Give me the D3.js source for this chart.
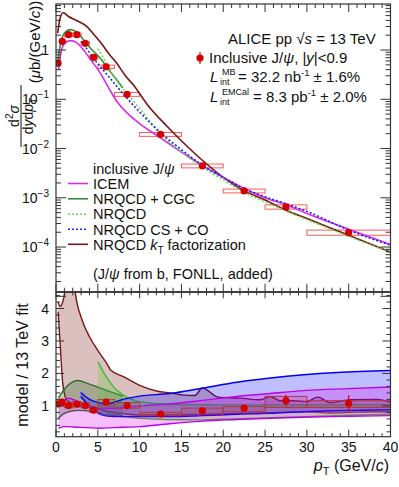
<!DOCTYPE html>
<html>
<head>
<meta charset="utf-8">
<script src="https://cdn.jsdelivr.net/npm/d3@7"></script>
<style>
  body { margin: 0; background: #fff; }
  svg { display: block; font-family: "Liberation Sans", Arial, sans-serif; }
</style>
</head>
<body>
<svg id="chart"></svg>
<script>
// ---- data: J/psi cross section (top) ----
const ptData = [0.25, 0.75, 1.5, 2.5, 3.5, 4.5, 6, 8.5, 12.5, 17.5, 22.5, 27.5, 35];
const ptLow  = [0, 0.5, 1, 2, 3, 4, 5, 7, 10, 15, 20, 25, 30];
const ptHigh = [0.5, 1, 2, 3, 4, 5, 7, 10, 15, 20, 25, 30, 40];
const xsec   = [0.54, 1.50, 2.05, 2.05, 1.37, 0.71, 0.458, 0.126, 0.0194, 4.45e-3, 1.38e-3, 6.53e-4, 1.97e-4];
const xsecStat = [0.06, 0.04, 0.03, 0.03, 0.03, 0.04, 0.04, 0.05, 0.06, 0.07, 0.09, 0.12, 0.15];
const xsecSyst = [0.09, 0.08, 0.08, 0.08, 0.08, 0.08, 0.08, 0.09, 0.09, 0.09, 0.09, 0.10, 0.12];

// ---- model curves (top) ----
const icemPt  = [0.3, 0.6, 1.0, 1.7, 2.5, 3.3, 4.2, 5.3, 6.3, 7.3, 8.5, 10, 12.5, 15, 17.5, 20, 22.5, 25, 27.5, 30, 35, 40];
const icemVal = [0.39, 0.9, 1.35, 1.55, 1.4, 1.0, 0.62, 0.34, 0.17, 0.089, 0.053, 0.032, 0.0165, 8.5e-3, 4.5e-3, 2.6e-3, 1.55e-3, 1.0e-3, 7.2e-4, 4.8e-4, 2.3e-4, 1.12e-4];
const cgcPt   = [0.15, 0.4, 0.8, 1.2, 1.7, 2.5, 3.3, 4.2, 5.3, 6.3, 7.3, 8.0];
const cgcVal  = [0.46, 1.0, 1.9, 2.4, 2.6, 2.3, 1.6, 1.05, 0.68, 0.4, 0.245, 0.17];
const nrqcdPt  = [5, 6, 7.3, 8.5, 10, 12.5, 15, 17.5, 20, 22.5, 25, 27.5, 30, 35, 40];
const nrqcdVal = [1.07, 0.55, 0.23, 0.13, 0.065, 0.02, 8.5e-3, 4.2e-3, 2.3e-3, 1.3e-3, 8.2e-4, 5.4e-4, 3.6e-4, 1.65e-4, 7.8e-5];
const csPt  = [3.0, 3.5, 4.2, 5.3, 6.3, 7.3, 8.5, 10, 12.5, 15, 17.5, 20, 22.5, 25, 27.5, 30, 35, 40];
const csVal = [1.5, 1.17, 0.8, 0.46, 0.29, 0.18, 0.105, 0.055, 0.021, 9.5e-3, 4.6e-3, 2.6e-3, 1.54e-3, 1.05e-3, 7.6e-4, 5.3e-4, 2.2e-4, 1.09e-4];
const ktPt  = [0.2, 0.5, 0.87, 1.5, 2.5, 3.7, 4.5, 5.27, 6.3, 7.27, 8.3, 9.26, 11, 13.3, 16.4, 20, 22.5, 25, 27.5, 30, 35, 40];
const ktVal = [2.2, 4.5, 5.7, 4.8, 3.94, 2.98, 2.1, 1.47, 0.85, 0.54, 0.3, 0.194, 0.075, 0.028, 8.5e-3, 2.6e-3, 1.38e-3, 9e-4, 5.6e-4, 3.8e-4, 1.74e-4, 7.9e-5];

// ---- ratio panel ----
const ratio     = [1.06, 1.12, 1.01, 1.05, 1.01, 0.87, 1.12, 1.01, 0.75, 0.85, 0.93, 1.16, 1.08];
const ratioStat = [0.10, 0.08, 0.05, 0.05, 0.05, 0.05, 0.06, 0.07, 0.10, 0.10, 0.10, 0.18, 0.25];
const ratioBoxLo = [0.98, 1.03, 0.94, 0.97, 0.94, 0.80, 1.00, 0.93, 0.70, 0.75, 0.82, 0.95, 0.95];
const ratioBoxHi = [1.14, 1.20, 1.08, 1.13, 1.08, 0.94, 1.20, 1.10, 0.80, 0.93, 0.98, 1.29, 1.16];

const ktBandPt = [0.25, 0.5, 0.8, 1.1, 1.3, 1.6, 2.0, 2.3, 3.1, 4.07, 5.07, 6.27, 6.5, 8.06, 10, 12, 14, 15, 16.6, 17.5, 19.4, 22, 24.4, 25.6, 26.8, 28.4, 30, 31.3, 32.8, 35.2, 38.4, 40];
const ktBandHi = [4.2, 4.07, 4.2, 4.6, 5.2, 5.5, 5.2, 4.5, 3.66, 3.1, 2.68, 2.22, 2.11, 1.9, 1.63, 1.46, 1.39, 1.34, 1.32, 1.55, 1.27, 1.24, 1.19, 1.29, 1.16, 1.16, 1.13, 1.27, 1.1, 1.19, 1.2, 1.11];
const ktBandLo = [3.9, 2.9, 1.7, 1.28, 1.18, 1.12, 1.06, 1.04, 1.0, 0.95, 0.9, 0.82, 0.81, 0.76, 0.72, 0.72, 0.72, 0.72, 0.73, 0.73, 0.75, 0.77, 0.78, 0.79, 0.8, 0.81, 0.82, 0.8, 0.78, 0.8, 0.82, 0.82];
const cgcBandPt = [0.3, 0.8, 1.28, 2.07, 2.67, 3.67, 5.07, 6.47, 8.0];
const cgcBandHi = [1.24, 1.45, 1.6, 1.75, 1.78, 1.7, 1.57, 1.44, 1.3];
const cgcBandLo = [0.62, 0.74, 0.8, 0.85, 0.86, 0.85, 0.79, 0.74, 0.7];
const nrqcdBandPt = [5, 6, 7, 8, 10, 13, 17, 20, 25, 30, 35, 40];
const nrqcdBandHi = [2.37, 1.9, 1.55, 1.34, 1.13, 1.06, 1.04, 1.03, 1.03, 1.03, 1.03, 1.03];
const nrqcdBandLo = [0.82, 0.75, 0.7, 0.67, 0.62, 0.58, 0.57, 0.59, 0.63, 0.67, 0.71, 0.75];
const csBandPt = [2.95, 4.07, 5.07, 6.07, 8, 10, 13.6, 17.6, 21.6, 25.6, 29.6, 33.6, 40];
const csBandHi = [1.41, 1.19, 1.1, 1.06, 1.2, 1.3, 1.38, 1.55, 1.73, 1.86, 1.96, 2.03, 2.09];
const csBandLo = [1.29, 0.98, 0.77, 0.69, 0.67, 0.67, 0.67, 0.7, 0.74, 0.77, 0.82, 0.85, 0.88];
const icemBandPt = [0.3, 0.9, 1.5, 2.1, 3.7, 5.1, 7, 10, 13.6, 17.5, 21.6, 25.6, 29.6, 35, 40];
const icemBandHi = [1.03, 1.15, 1.24, 1.19, 1.03, 0.93, 0.93, 1.0, 1.06, 1.17, 1.29, 1.38, 1.47, 1.53, 1.58];
const icemBandLo = [0.31, 0.36, 0.36, 0.35, 0.33, 0.31, 0.33, 0.36, 0.45, 0.53, 0.58, 0.62, 0.65, 0.68, 0.7];

const xTicks = [0, 5, 10, 15, 20, 25, 30, 35, 40];
const ratioTicks = [1, 2, 3, 4];
const logTicks = [1e-4, 1e-3, 1e-2, 1e-1, 1];
const logLabels = [["10", "\u22124"], ["10", "\u22123"], ["10", "\u22122"], ["10", "\u22121"], ["1", ""]];

const colIcem = "#d62ee6", colCgc = "#3a8a3a", colNrqcd = "#66dd55", colCs = "#2222ee", colKt = "#7b1515";
const colData = "#d40000";

const W = 399, H = 487;
const svg = d3.select("#chart").attr("width", W).attr("height", H);

const left = 56, right = 390.5;
const topY0 = 4, topY1 = 291.7, botY0 = 292.3, botY1 = 436.7;

const x = d3.scaleLinear().domain([0, 40]).range([left, right]);
const yTop = d3.scaleLog().domain([1.24e-5, 8.6]).range([topY1, topY0]);
const yBot = d3.scaleLinear().domain([0.05, 4.5]).range([botY1, botY0]);

const defs = svg.append("defs");
defs.append("clipPath").attr("id", "clipTop").append("rect")
  .attr("x", left).attr("y", topY0).attr("width", right - left).attr("height", topY1 - topY0);
defs.append("clipPath").attr("id", "clipBot").append("rect")
  .attr("x", left).attr("y", botY0).attr("width", right - left).attr("height", botY1 - botY0);

// ===== top panel =====
const gTop = svg.append("g").attr("clip-path", "url(#clipTop)");

function curve(g, pts, vals, color, dash, width) {
  const line = d3.line().x(d => x(d[0])).y(d => yTop(d[1])).curve(d3.curveMonotoneX);
  g.append("path").datum(d3.zip(pts, vals)).attr("d", line)
    .attr("fill", "none").attr("stroke", color).attr("stroke-width", width || 1.6)
    .attr("stroke-dasharray", dash || null);
}

// systematic boxes
gTop.selectAll(".sys").data(d3.range(ptData.length)).enter().append("rect")
  .attr("x", i => x(ptLow[i])).attr("width", i => x(ptHigh[i]) - x(ptLow[i]))
  .attr("y", i => yTop(xsec[i] * (1 + xsecSyst[i])))
  .attr("height", i => yTop(xsec[i] * (1 - xsecSyst[i])) - yTop(xsec[i] * (1 + xsecSyst[i])))
  .attr("fill", "none").attr("stroke", "#ff5a5a").attr("stroke-width", 1);

curve(gTop, ktPt, ktVal, colKt);
curve(gTop, icemPt, icemVal, colIcem);
curve(gTop, cgcPt, cgcVal, colCgc);
curve(gTop, nrqcdPt, nrqcdVal, colNrqcd, "2,2");
curve(gTop, csPt, csVal, colCs, "2,2");

gTop.selectAll(".err").data(d3.range(ptData.length)).enter().append("line")
  .attr("x1", i => x(ptData[i])).attr("x2", i => x(ptData[i]))
  .attr("y1", i => yTop(xsec[i] * (1 + xsecStat[i]))).attr("y2", i => yTop(xsec[i] * (1 - xsecStat[i])))
  .attr("stroke", colData).attr("stroke-width", 1.2);
gTop.selectAll(".pt").data(d3.range(ptData.length)).enter().append("circle")
  .attr("cx", i => x(ptData[i])).attr("cy", i => yTop(xsec[i])).attr("r", 3.6).attr("fill", colData);

// ===== bottom panel =====
const gBot = svg.append("g").attr("clip-path", "url(#clipBot)");

function band(pts, lo, hi, color, fill) {
  const area = d3.area().x(d => x(d[0])).y0(d => yBot(d[1])).y1(d => yBot(d[2])).curve(d3.curveMonotoneX);
  const data = d3.zip(pts, lo, hi);
  gBot.append("path").datum(data).attr("d", area).attr("fill", fill).attr("stroke", "none");
  const lineHi = d3.line().x(d => x(d[0])).y(d => yBot(d[2])).curve(d3.curveMonotoneX);
  const lineLo = d3.line().x(d => x(d[0])).y(d => yBot(d[1])).curve(d3.curveMonotoneX);
  gBot.append("path").datum(data).attr("d", lineHi).attr("fill", "none").attr("stroke", color).attr("stroke-width", 1.4);
  gBot.append("path").datum(data).attr("d", lineLo).attr("fill", "none").attr("stroke", color).attr("stroke-width", 1.4);
}

band(ktBandPt, ktBandLo, ktBandHi, colKt, "rgba(123,21,21,0.27)");
band(cgcBandPt, cgcBandLo, cgcBandHi, "#2a6e2a", "rgba(40,110,40,0.3)");
band(nrqcdBandPt, nrqcdBandLo, nrqcdBandHi, "#44bb33", "rgba(100,200,60,0.3)");
band(csBandPt, csBandLo, csBandHi, "#0000ee", "rgba(0,0,255,0.25)");
band(icemBandPt, icemBandLo, icemBandHi, "#bb00ee", "rgba(220,0,230,0.25)");

gBot.append("line").attr("x1", x(0)).attr("x2", x(40)).attr("y1", yBot(1)).attr("y2", yBot(1))
  .attr("stroke", "#777").attr("stroke-width", 1).attr("stroke-dasharray", "3,2");

gBot.selectAll(".rbox").data(d3.range(ptData.length)).enter().append("rect")
  .attr("x", i => x(ptLow[i])).attr("width", i => x(ptHigh[i]) - x(ptLow[i]))
  .attr("y", i => yBot(ratioBoxHi[i])).attr("height", i => yBot(ratioBoxLo[i]) - yBot(ratioBoxHi[i]))
  .attr("fill", "rgba(160,60,60,0.15)").attr("stroke", "#b03a3a").attr("stroke-width", 1);
gBot.selectAll(".rerr").data(d3.range(ptData.length)).enter().append("line")
  .attr("x1", i => x(ptData[i])).attr("x2", i => x(ptData[i]))
  .attr("y1", i => yBot(ratio[i] + ratioStat[i])).attr("y2", i => yBot(ratio[i] - ratioStat[i]))
  .attr("stroke", colData).attr("stroke-width", 1.2);
gBot.selectAll(".rpt").data(d3.range(ptData.length)).enter().append("circle")
  .attr("cx", i => x(ptData[i])).attr("cy", i => yBot(ratio[i])).attr("r", 3.6).attr("fill", colData);

// ===== axes / frames =====
const axCol = "#333";
[[topY0, topY1], [botY0, botY1]].forEach(([a, b]) => {
  svg.append("rect").attr("x", left).attr("y", a).attr("width", right - left).attr("height", b - a)
    .attr("fill", "none").attr("stroke", axCol).attr("stroke-width", 1.2);
});

const xMinor = d3.range(0, 41, 1).filter(v => v % 5 !== 0);
function xTickRow(y0, dir, len, vals) {
  svg.append("g").selectAll("line").data(vals).enter().append("line")
    .attr("x1", d => x(d)).attr("x2", d => x(d)).attr("y1", y0).attr("y2", y0 + dir * len)
    .attr("stroke", axCol).attr("stroke-width", 1);
}
xTickRow(topY0, 1, 8, xTicks); xTickRow(topY0, 1, 4, xMinor);
xTickRow(topY1, -1, 8, xTicks); xTickRow(topY1, -1, 4, xMinor);
xTickRow(botY0, 1, 6, xTicks); xTickRow(botY0, 1, 3, xMinor);
xTickRow(botY1, -1, 7, xTicks); xTickRow(botY1, -1, 3.5, xMinor);

function yTickRow(scale, vals, len) {
  const g = svg.append("g");
  g.selectAll(".l").data(vals).enter().append("line")
    .attr("x1", left).attr("x2", left + len).attr("y1", d => scale(d)).attr("y2", d => scale(d))
    .attr("stroke", axCol).attr("stroke-width", 1);
  g.selectAll(".r").data(vals).enter().append("line")
    .attr("x1", right).attr("x2", right - len).attr("y1", d => scale(d)).attr("y2", d => scale(d))
    .attr("stroke", axCol).attr("stroke-width", 1);
}
const logMajor = [1e-5, 1e-4, 1e-3, 1e-2, 1e-1, 1];
const logMinor = [];
logMajor.forEach(d => { for (let k = 2; k <= 9; k++) if (d * k < 8.6 && d * k > 1.24e-5) logMinor.push(d * k); });
yTickRow(yTop, logMajor, 10);
yTickRow(yTop, logMinor, 5);
yTickRow(yBot, ratioTicks, 8);
yTickRow(yBot, d3.range(0.2, 4.5, 0.2).filter(v => Math.abs(v - Math.round(v)) > 0.01), 4);

// x labels
svg.append("g").selectAll("text").data(xTicks).enter().append("text")
  .attr("x", d => x(d)).attr("y", 452).attr("text-anchor", "middle")
  .attr("font-size", 14).attr("fill", "#111").text(d => d);
// ratio y labels
svg.append("g").selectAll("text").data(ratioTicks).enter().append("text")
  .attr("x", 49).attr("y", d => yBot(d) + 5).attr("text-anchor", "end")
  .attr("font-size", 14).attr("fill", "#111").text(d => d);
// log labels
logTicks.forEach((v, i) => {
  const t = svg.append("text").attr("x", 49).attr("y", yTop(v) + 5).attr("text-anchor", "end")
    .attr("font-size", 14).attr("fill", "#111");
  t.append("tspan").text(logLabels[i][0]);
  if (logLabels[i][1]) t.append("tspan").attr("font-size", 10).attr("dy", -6).text(logLabels[i][1]);
});

// axis titles
const xt = svg.append("text").attr("x", 389).attr("y", 471).attr("text-anchor", "end")
  .attr("font-size", 16).attr("fill", "#111");
xt.append("tspan").attr("font-style", "italic").text("p");
xt.append("tspan").attr("font-size", 11).attr("dy", 4).text("T");
xt.append("tspan").attr("dy", -4).text(" (GeV/");
xt.append("tspan").attr("font-style", "italic").text("c");
xt.append("tspan").text(")");

svg.append("text").attr("transform", "rotate(-90)").attr("x", -365).attr("y", 28)
  .attr("text-anchor", "middle").attr("font-size", 16).attr("fill", "#111").text("model / 13 TeV fit");

const yt = svg.append("g").attr("transform", "rotate(-90)").attr("fill", "#111");
const num = yt.append("text").attr("x", -116).attr("y", 18.5).attr("text-anchor", "middle").attr("font-size", 14);
num.append("tspan").text("d");
num.append("tspan").attr("font-size", 10).attr("dy", -6).text("2");
num.append("tspan").attr("dy", 6).attr("font-style", "italic").text("\u03c3");
yt.append("line").attr("x1", -147).attr("x2", -85).attr("y1", 21).attr("y2", 21).attr("stroke", "#111").attr("stroke-width", 1);
const den = yt.append("text").attr("x", -116).attr("y", 32.5).attr("text-anchor", "middle").attr("font-size", 14);
den.append("tspan").text("d");
den.append("tspan").attr("font-style", "italic").text("y");
den.append("tspan").text("d");
den.append("tspan").attr("font-style", "italic").text("p");
den.append("tspan").attr("font-size", 10).attr("dy", 4).text("T");
const un = yt.append("text").attr("x", -42).attr("y", 40).attr("text-anchor", "middle").attr("font-size", 15);
un.append("tspan").text("(");
un.append("tspan").attr("font-style", "italic").text("\u03bc");
un.append("tspan").text("b/(GeV/");
un.append("tspan").attr("font-style", "italic").text("c");
un.append("tspan").text("))");

// ===== legends =====
const fs = 14.5;
svg.append("text").attr("x", 228).attr("y", 44).attr("font-size", 15).attr("fill", "#111")
  .html('ALICE pp \u221a<tspan font-style="italic">s</tspan> = 13 TeV');
svg.append("line").attr("x1", 200).attr("x2", 200).attr("y1", 52).attr("y2", 64).attr("stroke", colData).attr("stroke-width", 1.2);
svg.append("circle").attr("cx", 200).attr("cy", 58).attr("r", 3.6).attr("fill", colData);
svg.append("text").attr("x", 209).attr("y", 63).attr("font-size", 15).attr("fill", "#111")
  .html('Inclusive J/<tspan font-style="italic">\u03c8</tspan>, |<tspan font-style="italic">y</tspan>|&lt;0.9');

function lumi(y, sup, xEq, rest, tail) {
  svg.append("text").attr("x", 210).attr("y", y).attr("font-size", 15).attr("font-style", "italic").attr("fill", "#111").text("L");
  svg.append("text").attr("x", 222).attr("y", y - 7).attr("font-size", 9).attr("fill", "#111").text(sup);
  svg.append("text").attr("x", 220).attr("y", y + 2.5).attr("font-size", 9).attr("fill", "#111").text("int");
  const t = svg.append("text").attr("x", xEq).attr("y", y).attr("font-size", 15).attr("fill", "#111");
  t.append("tspan").text(rest);
  t.append("tspan").attr("font-size", 9.5).attr("dy", -6).text("-1");
  t.append("tspan").attr("dy", 6).text(tail);
}
lumi(82, "MB", 238, "= 32.2 nb", " \u00b1 1.6%");
lumi(102, "EMCal", 253, "= 8.3 pb", " \u00b1 2.0%");

svg.append("text").attr("x", 93).attr("y", 174).attr("font-size", fs).attr("fill", "#111")
  .html('inclusive J/<tspan font-style="italic">\u03c8</tspan>');
const legItems = [
  { y: 183.5, c: colIcem, d: null, t: "ICEM" },
  { y: 198.8, c: colCgc, d: null, t: "NRQCD + CGC" },
  { y: 214.2, c: colNrqcd, d: "2,2", t: "NRQCD" },
  { y: 229.3, c: colCs, d: "2,2", t: "NRQCD CS + CO" },
  { y: 244.3, c: colKt, d: null, t: "kt" }
];
legItems.forEach(it => {
  svg.append("line").attr("x1", 68).attr("x2", 88).attr("y1", it.y).attr("y2", it.y)
    .attr("stroke", it.c).attr("stroke-width", 1.6).attr("stroke-dasharray", it.d);
  const t = svg.append("text").attr("x", 93).attr("y", it.y + 5.2).attr("font-size", fs).attr("fill", "#111");
  if (it.t === "kt") {
    t.append("tspan").text("NRQCD ");
    t.append("tspan").attr("font-style", "italic").text("k");
    t.append("tspan").attr("font-size", 10).attr("dy", 4).text("T");
    t.append("tspan").attr("dy", -4).text(" factorization");
  } else t.text(it.t);
});
svg.append("text").attr("x", 93).attr("y", 279).attr("font-size", fs).attr("fill", "#111")
  .html('(J/<tspan font-style="italic">\u03c8</tspan> from b, FONLL, added)');
</script>
</body>
</html>
